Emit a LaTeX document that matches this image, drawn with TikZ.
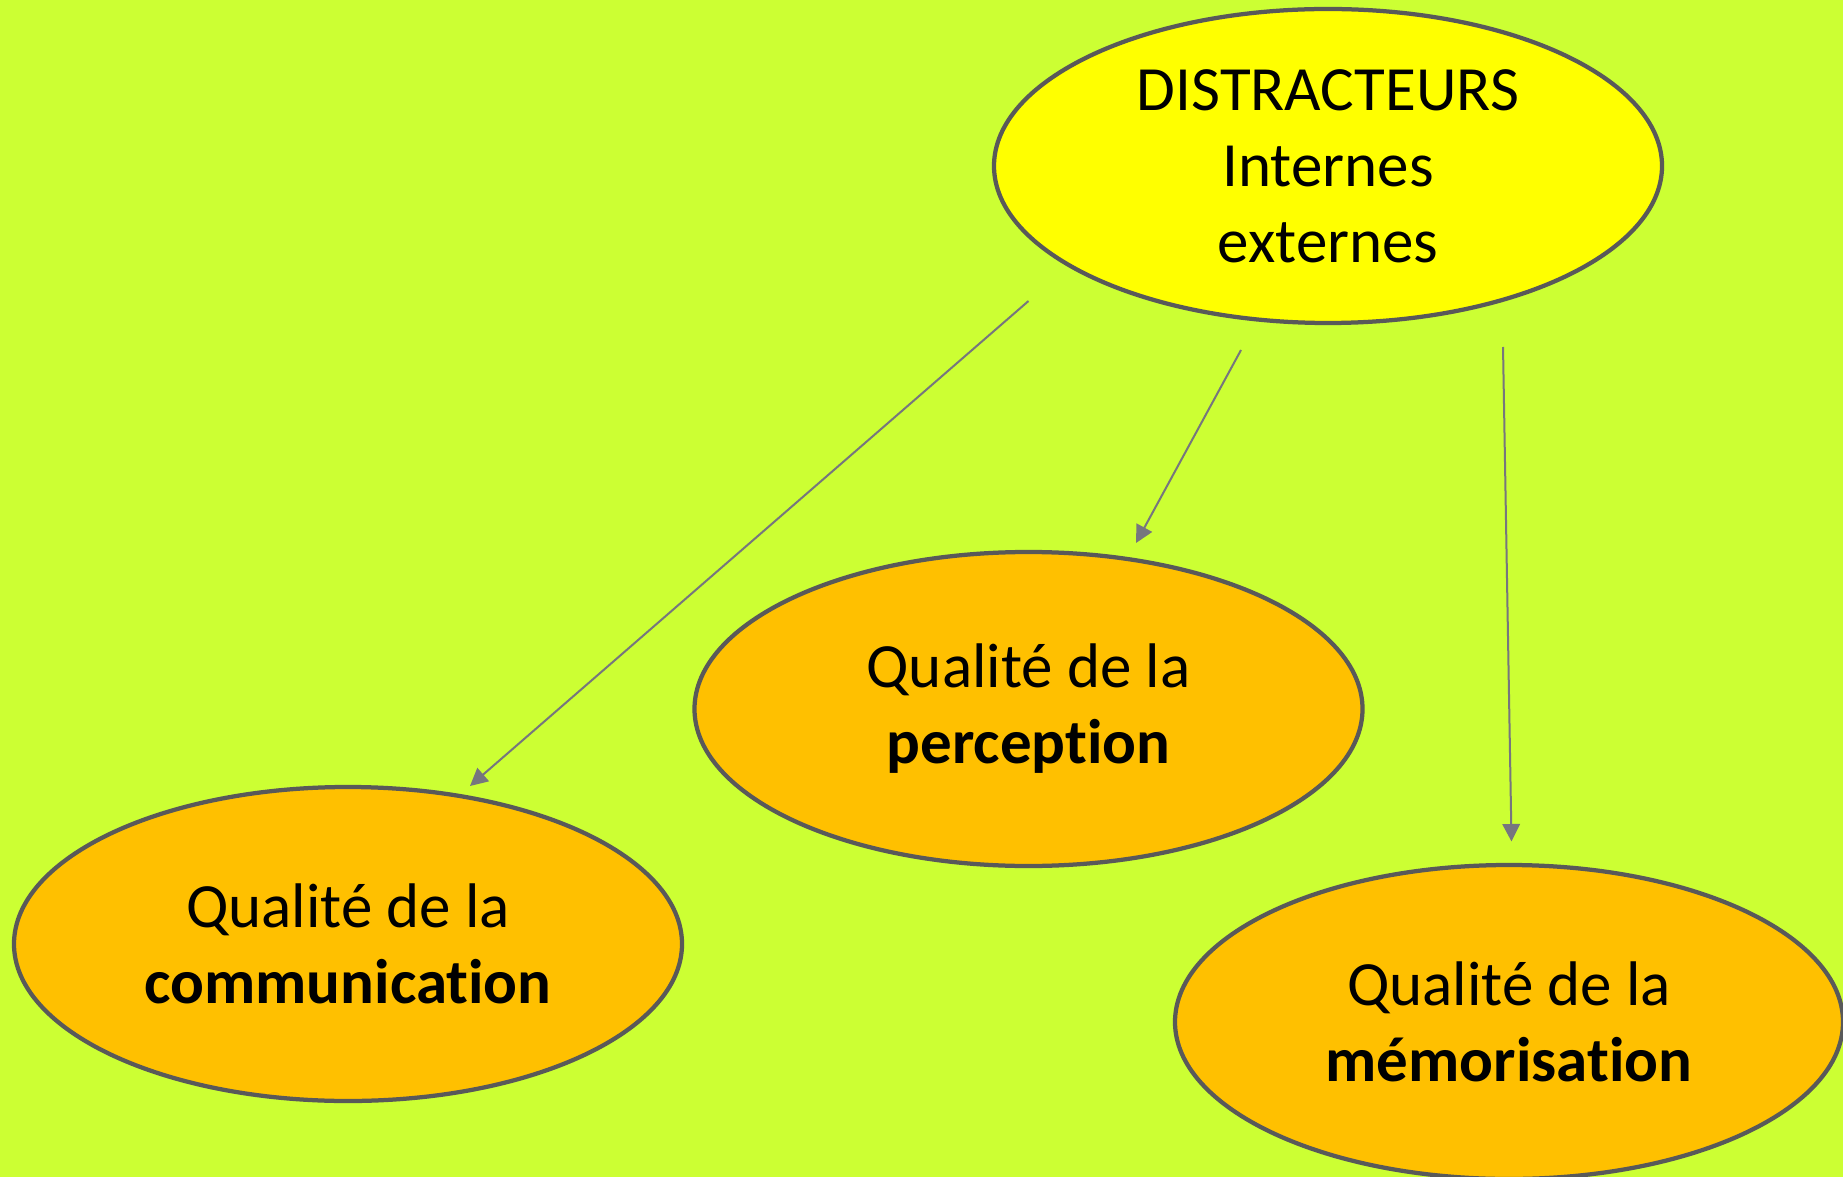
\documentclass[tikz,border=0pt]{standalone}
\usepackage{fontspec}
\setmainfont[Ligatures=NoCommon]{Carlito}
\usetikzlibrary{shapes.geometric,arrows.meta}
\definecolor{bggreen}{RGB}{204,255,51}
\definecolor{topyellow}{RGB}{255,255,0}
\definecolor{qorange}{RGB}{255,192,0}
\definecolor{rimgray}{RGB}{89,89,89}
\definecolor{arrowgray}{RGB}{118,118,126}
\tikzset{
  oval/.style={ellipse, draw=rimgray, line width=1.7pt, inner sep=0pt,
    minimum width=267.2pt, minimum height=125.6pt, align=center,
    font=\fontsize{25.2}{30.4}\selectfont},
  topoval/.style={oval, fill=topyellow},
  qoval/.style={oval, fill=qorange},
  link/.style={draw=arrowgray, line width=0.8pt,
    -{Triangle[length=7pt,width=7pt]}}
}
\begin{document}
\begin{tikzpicture}[x=0.4pt,y=-0.4pt]
\fill[bggreen] (0,0) rectangle (1843,1177);
\useasboundingbox (0,0) rectangle (1843,1177);
\node[topoval] (dis) at (1328,166) {DISTRACTEURS\\Internes\\externes};
\node[qoval] (perc) at (1028.5,709) {Qualité de la\\\textbf{perception}};
\node[qoval] (comm) at (348,944) {Qualité de la\\\textbf{communication}};
\node[qoval] (mem) at (1509,1022) {Qualité de la\\\textbf{mémorisation}};
\coordinate (s1) at (1028.5,301);
\coordinate (e1) at (470,786);
\coordinate (s2) at (1241,350);
\coordinate (e2) at (1136,543);
\coordinate (s3) at (1503,347);
\coordinate (e3) at (1511.5,841.5);
\draw[link] (s1) -- (e1);
\draw[link] (s2) -- (e2);
\draw[link] (s3) -- (e3);
\end{tikzpicture}
\end{document}
